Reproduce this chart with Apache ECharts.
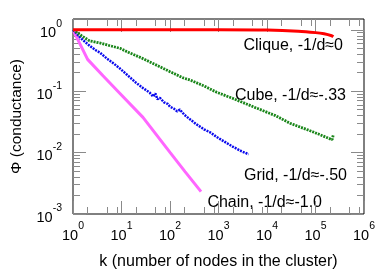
<!DOCTYPE html>
<html><head><meta charset="utf-8">
<script src="https://cdn.jsdelivr.net/npm/echarts@6/dist/echarts.min.js"></script>
<style>html,body{margin:0;padding:0;background:#fff}#c{width:392px;height:275px}</style>
</head><body><div id="c"></div>
<script>
// ---- data ----
const cliqueK = [1, 10, 100, 1000, 10000, 44000, 100000, 150000, 215000, 233000];
const cliqueV = [1, 1, 1, 1, 0.99, 0.95, 0.9, 0.86, 0.8, 0.77];

const cubeK = [1, 1.5, 2.2, 3.6, 5.8, 9.3, 13.8, 20, 30, 38, 62, 100, 190, 260, 500, 920, 2000, 6100, 15000, 30000, 90000, 160000, 220000, 233000, 233000];
const cubeV = [1, 0.8, 0.66, 0.61, 0.55, 0.5, 0.43, 0.38, 0.33, 0.30, 0.25, 0.208, 0.164, 0.152, 0.122, 0.096, 0.076, 0.053, 0.04, 0.03, 0.0217, 0.018, 0.0162, 0.0152, 0.0195];

const gridK = [1, 1.3, 1.6, 2.2, 3, 3.6, 5, 7, 9.3, 13, 20, 28, 38, 45, 50, 55, 62, 75, 90, 100, 120, 140, 160, 200, 258, 350, 500, 700, 917, 1300, 2000, 3000, 4170];
const gridV = [1, 0.8, 0.68, 0.55, 0.46, 0.425, 0.34, 0.28, 0.234, 0.185, 0.137, 0.112, 0.095, 0.082, 0.092, 0.074, 0.078, 0.066, 0.062, 0.056, 0.052, 0.047, 0.05, 0.041, 0.0348, 0.029, 0.024, 0.021, 0.018, 0.0152, 0.0124, 0.0105, 0.0094];

const chainK = [1, 2, 4.15, 9.3, 27.7, 100, 204, 436];
const chainV = [1, 0.33, 0.178, 0.092, 0.0375, 0.0101, 0.0049, 0.00231];

const seriesNames = ['Clique, -1/d\u22480', 'Cube, -1/d\u2248-.33', 'Grid, -1/d\u2248-.50', 'Chain, -1/d\u2248-1.0'];

const xMajorTicks = [1, 10, 100, 1000, 10000, 100000, 1000000];
const xMinorMult = [2, 5, 8];
const yMajorTicks = [0.001, 0.01, 0.1, 1];
const yMinorMult = [2, 3, 4, 5, 6, 7, 8, 9];

const xTitle = 'k (number of nodes in the cluster)';
const yTitle = '\u03A6 (conductance)';

// ---- build ----
function minors(majors, mult, max) {
  const out = [];
  majors.forEach(m => mult.forEach(f => { const v = m * f; if (v < max) out.push(v); }));
  return out;
}
const xMinorTicks = minors(xMajorTicks, xMinorMult, 1e6);
const yMinorTicks = minors(yMajorTicks, yMinorMult, 1.5);

const FONT = 'Liberation Sans, Arial, Helvetica, sans-serif';
const tickColor = '#8a8a8a';
const rich = {
  b: {fontSize: 14.5, fontFamily: FONT, color: '#000', lineHeight: 22, verticalAlign: 'bottom'},
  s: {fontSize: 10.5, fontFamily: FONT, color: '#000', lineHeight: 16, verticalAlign: 'top'}
};
function powFmt(v) {
  const e = Math.round(Math.log10(v));
  if (Math.abs(Math.log10(v) - e) > 1e-6) return '';
  return '{b|10}{s|' + e + '}';
}
function zip(a, b) { return a.map((x, i) => [x, b[i]]); }

function xAx(pos, ticks, len, labels) {
  return {
    type: 'log', logBase: 10, min: 1, max: 1e6, position: pos,
    axisLine: {show: false},
    splitLine: {show: false},
    minorTick: {show: false},
    axisTick: {show: true, inside: true, length: len, customValues: ticks, lineStyle: {color: tickColor, width: 1}},
    axisLabel: labels ? {show: true, customValues: xMajorTicks, formatter: powFmt, rich: rich, margin: 7} : {show: false},
    name: labels ? xTitle : '', nameLocation: 'middle', nameGap: 40,
    nameTextStyle: {fontSize: 16, fontFamily: FONT, color: '#000'}
  };
}
function yAx(pos, ticks, len, labels) {
  return {
    type: 'log', logBase: 10, min: 0.001, max: 1.5, position: pos,
    axisLine: {show: false},
    splitLine: {show: false},
    minorTick: {show: false},
    axisTick: {show: true, inside: true, length: len, customValues: ticks, lineStyle: {color: tickColor, width: 1}},
    axisLabel: labels ? {show: true, customValues: yMajorTicks, formatter: powFmt, rich: rich, margin: 11} : {show: false},
    name: labels ? yTitle : '', nameLocation: 'middle', nameGap: 48, nameRotate: 90,
    nameTextStyle: {fontSize: 15.5, fontFamily: FONT, color: '#000'}
  };
}

const chart = echarts.init(document.getElementById('c'), null, {renderer: 'canvas'});
chart.setOption({
  animation: false,
  backgroundColor: '#fff',
  grid: {left: 73, right: 28, top: 19, bottom: 49, show: true, borderColor: '#000', borderWidth: 1, backgroundColor: 'transparent'},
  xAxis: [
    xAx('bottom', xMajorTicks, 13, true),
    xAx('bottom', xMinorTicks, 7, false),
    xAx('top', xMajorTicks, 13, false),
    xAx('top', xMinorTicks, 7, false)
  ],
  yAxis: [
    yAx('left', yMajorTicks, 13, true),
    yAx('left', yMinorTicks, 7, false),
    yAx('right', yMajorTicks, 13, false),
    yAx('right', yMinorTicks, 7, false)
  ],
  series: [
    {name: seriesNames[0], type: 'line', data: zip(cliqueK, cliqueV), showSymbol: false, smooth: 0.3,
     lineStyle: {color: '#ff0000', width: 3}, z: 5},
    {name: seriesNames[1], type: 'line', data: zip(cubeK, cubeV), showSymbol: false,
     lineStyle: {color: '#1a861a', width: 2.8, type: [2, 1]}, z: 4},
    {name: seriesNames[2], type: 'line', data: zip(gridK, gridV), showSymbol: false,
     lineStyle: {color: '#0a0aee', width: 2.5, type: [2, 1]}, z: 3},
    {name: seriesNames[3], type: 'line', data: zip(chainK, chainV), showSymbol: false,
     lineStyle: {color: '#ff66ff', width: 3}, z: 2}
  ],
  graphic: [
    {type: 'text', style: {text: seriesNames[0], x: 343, y: 46, textAlign: 'right', textVerticalAlign: 'middle', font: '16px ' + FONT, fill: '#000'}},
    {type: 'text', style: {text: seriesNames[1], x: 346, y: 96, textAlign: 'right', textVerticalAlign: 'middle', font: '16px ' + FONT, fill: '#000'}},
    {type: 'text', style: {text: seriesNames[2], x: 347, y: 176, textAlign: 'right', textVerticalAlign: 'middle', font: '16px ' + FONT, fill: '#000'}},
    {type: 'text', style: {text: seriesNames[3], x: 322, y: 203, textAlign: 'right', textVerticalAlign: 'middle', font: '16px ' + FONT, fill: '#000'}}
  ]
});
</script></body></html>
